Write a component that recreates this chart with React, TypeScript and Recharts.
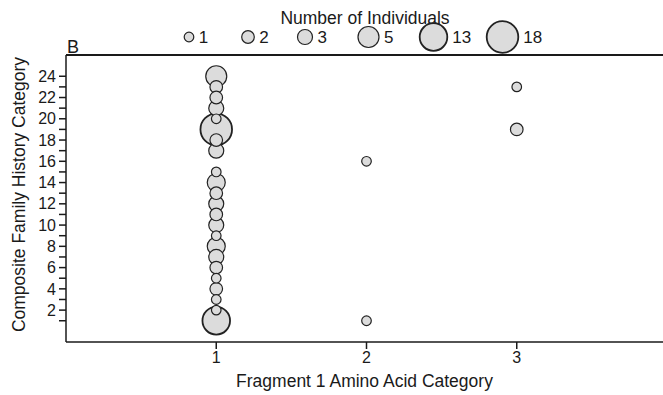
import React from 'react';
import { ScatterChart, Scatter, XAxis, YAxis, ReferenceLine, Label } from 'recharts';

// Fragment 1 amino acid category (x), composite family history category (y), number of individuals (bubble)
const fragmentCategory = [1, 1, 1, 1, 1, 1, 1, 1, 1, 1, 1, 1, 1, 1, 1, 1, 1, 1, 1, 1, 1, 1, 1, 2, 2, 3, 3];
const familyCategory = [24, 23, 22, 21, 20, 19, 18, 17, 15, 14, 13, 12, 11, 10, 9, 8, 7, 6, 5, 4, 3, 2, 1, 16, 1, 23, 19];
const individuals = [5, 2, 2, 3, 1, 18, 2, 3, 1, 4, 2, 3, 2, 3, 1, 4, 3, 2, 1, 2, 1, 1, 13, 1, 1, 1, 2];

const legendCounts = [1, 2, 3, 5, 13, 18];
const xTicks = [1, 2, 3];
const yTicks = [1, 2, 3, 4, 5, 6, 7, 8, 9, 10, 11, 12, 13, 14, 15, 16, 17, 18, 19, 20, 21, 22, 23, 24];

const FONT = '"Liberation Sans", Arial, sans-serif';
const INK = '#1a1a1a';

// bubble radius per count
const sizeAnchors: [number, number][] = [[1, 4.8], [2, 6.3], [3, 7.5], [5, 10.5], [13, 13.8], [18, 15.8]];
const radiusFor = (n: number) => {
  for (let i = 1; i < sizeAnchors.length; i++) {
    const [n0, r0] = sizeAnchors[i - 1];
    const [n1, r1] = sizeAnchors[i];
    if (n <= n1) return r0 + ((n - n0) / (n1 - n0)) * (r1 - r0);
  }
  return sizeAnchors[sizeAnchors.length - 1][1];
};

const Bubble = (props: any) => {
  const { cx, cy, payload } = props;
  const r = radiusFor(payload.n);
  return (
    <circle cx={cx} cy={cy} r={r} fill="#dcdcdc" stroke="#222" strokeWidth={r > 12 ? 1.8 : 1.2} />
  );
};

// big bubbles first so small ones sit on top
const points = fragmentCategory
  .map((x, i) => ({ x, y: familyCategory[i], n: individuals[i] }))
  .sort((a, b) => b.n - a.n);

const legendCenters = [189, 248, 305, 368.5, 433.5, 502.5];

export default function App() {
  return (
    <div style={{ position: 'absolute', left: 0, top: 0, width: 663, height: 395, overflow: 'hidden', background: '#fff' }}>
      <svg width={663} height={60} style={{ position: 'absolute', left: 0, top: 0 }}>
        <text x={365} y={24} textAnchor="middle" fontFamily={FONT} fontSize={17.5} fill={INK}>
          Number of Individuals
        </text>
        {legendCounts.map((n, i) => {
          const r = radiusFor(n);
          return (
            <g key={n}>
              <circle cx={legendCenters[i]} cy={37} r={r} fill="#dcdcdc" stroke="#222" strokeWidth={r > 12 ? 1.8 : 1.2} />
              <text x={legendCenters[i] + r + 5} y={43} fontFamily={FONT} fontSize={17} fill={INK}>
                {n}
              </text>
            </g>
          );
        })}
        <text x={67} y={53} fontFamily={FONT} fontSize={18} fill={INK}>B</text>
      </svg>
      <ScatterChart width={670} height={395} margin={{ top: 55, right: 3, bottom: 0, left: 0 }}>
        <XAxis
          type="number"
          dataKey="x"
          domain={[0, 4]}
          ticks={xTicks}
          height={53}
          tickSize={7}
          tickMargin={3}
          stroke={INK}
          strokeWidth={1.5}
          tick={{ fill: INK, fontSize: 16, fontFamily: FONT }}
          allowDecimals={false}
        >
          <Label
            content={({ viewBox }: any) => (
              <text x={viewBox.x + viewBox.width / 2 - 2} y={387} textAnchor="middle" fontFamily={FONT} fontSize={17.5} fill={INK}>
                Fragment 1 Amino Acid Category
              </text>
            )}
          />
        </XAxis>
        <YAxis
          type="number"
          dataKey="y"
          domain={[-1, 26]}
          ticks={yTicks}
          interval={0}
          width={66}
          tickSize={7}
          tickMargin={3}
          stroke={INK}
          strokeWidth={1.5}
          tickFormatter={(v: number) => (v % 2 === 0 ? String(v) : '')}
          tick={{ fill: INK, fontSize: 16, fontFamily: FONT }}
        >
          <Label
            content={({ viewBox }: any) => {
              const cy = viewBox.y + viewBox.height / 2 - 4;
              return (
                <text x={25} y={cy} transform={`rotate(-90 25 ${cy})`} textAnchor="middle" fontFamily={FONT} fontSize={17.5} fill={INK}>
                  Composite Family History Category
                </text>
              );
            }}
          />
        </YAxis>
        <ReferenceLine y={26} stroke={INK} strokeWidth={2} />
        <Scatter data={points} shape={<Bubble />} isAnimationActive={false} />
      </ScatterChart>
    </div>
  );
}
